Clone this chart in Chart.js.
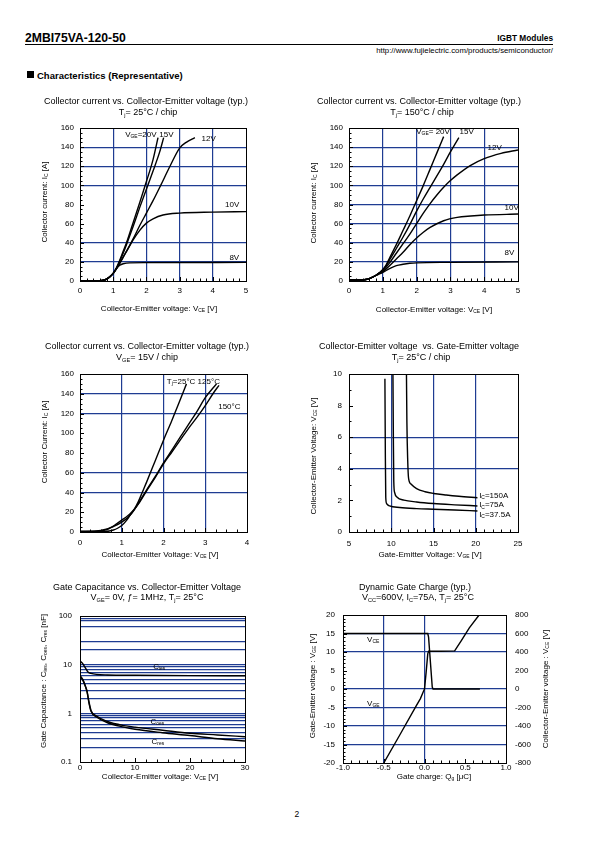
<!DOCTYPE html>
<html>
<head>
<meta charset="utf-8">
<title>2MBI75VA-120-50 characteristics</title>
<script src="https://cdn.jsdelivr.net/npm/chart.js@4.4.0/dist/chart.umd.min.js"></script>
<style>
  body { margin: 0; background: #fff; font-family: "Liberation Sans", Arial, sans-serif; }
  #page { position: relative; width: 595px; height: 842px; overflow: hidden; }
  #page canvas { position: absolute; left: 0; top: 0; }
  .t { position: absolute; white-space: nowrap; color: #000; line-height: 1; }
</style>
</head>
<body>
<div id="page">
  <div class="t" style="left:25px;top:31.5px;font-size:12.2px;font-weight:bold;">2MBI75VA-120-50</div>
  <div class="t" style="right:42px;top:34px;font-size:8.3px;font-weight:bold;">IGBT Modules</div>
  <div style="position:absolute;left:25px;top:44px;width:528px;height:1px;background:#000"></div>
  <div class="t" style="right:42px;top:46.5px;font-size:7.8px;">http://www.fujielectric.com/products/semiconductor/</div>
  <div style="position:absolute;left:27px;top:71px;width:7px;height:7px;background:#000"></div>
  <div class="t" style="left:37px;top:70.5px;font-size:9.5px;font-weight:bold;">Characteristics (Representative)</div>
  <div class="t" style="left:294.5px;top:810px;font-size:8.5px;">2</div>
  <canvas id="c1" width="595" height="842"></canvas>
  <canvas id="c2" width="595" height="842"></canvas>
  <canvas id="c3" width="595" height="842"></canvas>
  <canvas id="c4" width="595" height="842"></canvas>
  <canvas id="c5" width="595" height="842"></canvas>
  <canvas id="c6" width="595" height="842"></canvas>
</div>
<script>
// ---- Ic vs Vce, Tj = 25°C ([Vce, Ic])
const t25_vge20 = [[0,0],[0.5,0],[0.6,0.3],[0.7,0.8],[0.8,2],[0.9,4.5],[1.0,8],[1.1,14],[1.2,22],[1.3,31],[1.4,40],[1.6,61],[1.8,82],[2.0,104],[2.2,127],[2.35,150]];
const t25_vge15 = [[0,0],[0.5,0],[0.6,0.3],[0.7,0.8],[0.8,2],[0.9,4.5],[1.0,8],[1.1,13.5],[1.2,21],[1.3,29],[1.4,38],[1.6,57],[1.8,77],[2.0,96],[2.2,115],[2.4,135],[2.52,150]];
const t25_vge12 = [[0,0],[0.5,0],[0.6,0.3],[0.7,0.8],[0.8,2],[0.9,4.5],[1.0,8],[1.1,13],[1.2,19],[1.4,31],[1.6,44],[1.8,58],[2.0,71],[2.2,84],[2.43,100],[2.71,120],[3.0,139],[3.2,145],[3.46,150]];
const t25_vge10 = [[0,0],[0.5,0],[0.6,0.3],[0.7,0.8],[0.8,2],[0.9,4.5],[1.0,8],[1.1,13],[1.2,18.5],[1.3,25],[1.4,31],[1.5,37],[1.6,43],[1.8,53],[2.0,60.5],[2.2,65],[2.5,69],[3.0,71],[4.0,72],[5.0,72.5]];
const t25_vge8 = [[0,0],[0.5,0],[0.6,0.3],[0.7,0.8],[0.8,2],[0.9,4.5],[1.0,8],[1.1,13],[1.2,16.5],[1.3,18],[1.5,19],[2.0,19.2],[5.0,19.5]];

// ---- Ic vs Vce, Tj = 150°C
const t150_vge20 = [[0,1],[0.3,1],[0.5,1.6],[0.6,2.5],[0.7,4],[0.8,6],[0.9,8.5],[1.0,12],[1.1,17],[1.2,24],[1.4,38],[1.6,53],[1.8,68],[2.0,84],[2.2,100],[2.4,117],[2.6,134],[2.8,151]];
const t150_vge15 = [[0,1],[0.3,1],[0.5,1.6],[0.6,2.5],[0.7,4],[0.8,6],[0.9,8.5],[1.0,11.5],[1.1,16],[1.2,22],[1.4,34],[1.6,46],[1.8,59],[2.0,73],[2.2,86],[2.4,98],[2.6,110],[2.8,122],[3.0,135],[3.25,150]];
const t150_vge12 = [[0,1],[0.3,1],[0.5,1.6],[0.6,2.5],[0.7,4],[0.8,6],[0.9,8.5],[1.0,10.5],[1.1,14.5],[1.2,19],[1.4,29],[1.6,39],[1.8,49],[2.0,60],[2.2,71],[2.4,81],[2.6,90],[2.8,98],[3.0,105],[3.2,111],[3.6,121],[4.0,128],[4.5,133.5],[5.0,137]];
const t150_vge10 = [[0,1],[0.3,1],[0.5,1.6],[0.6,2.5],[0.7,4],[0.8,6],[0.9,8],[1.0,9.5],[1.2,16],[1.4,23],[1.6,30],[1.8,38],[2.0,45],[2.2,51],[2.4,56],[2.8,63],[3.2,66.5],[3.6,68],[4.0,69],[5.0,70]];
const t150_vge8 = [[0,1],[0.3,1],[0.5,1.6],[0.6,2.5],[0.7,4],[0.8,5.8],[0.9,7.5],[1.0,9],[1.2,13],[1.4,16],[1.6,17.5],[1.8,18.5],[2.0,19],[3.0,19.5],[5.0,20]];

// ---- Ic vs Vce, Vge = 15V
const vge15_tj25 = [[0,0.5],[0.6,0.5],[0.7,1],[0.8,2],[0.9,3.8],[1.0,6.5],[1.1,11],[1.2,17],[1.3,23],[1.4,31],[1.5,41],[1.6,51],[1.8,72],[2.0,93],[2.2,113],[2.4,134],[2.55,150]];
const vge15_tj125 = [[0,0.5],[0.4,0.8],[0.5,1.2],[0.6,2],[0.7,3.5],[0.8,5.5],[0.9,7.5],[1.0,10],[1.1,13],[1.2,17],[1.3,22.5],[1.4,29],[1.6,43],[1.8,56],[2.0,70],[2.2,83],[2.4,96],[2.6,109],[2.8,122],[3.0,136],[3.27,150]];
const vge15_tj150 = [[0,0.5],[0.4,1],[0.5,1.6],[0.6,2.6],[0.7,4],[0.8,6],[0.9,9],[1.0,12],[1.1,15],[1.2,18.5],[1.3,23],[1.4,28.5],[1.6,42],[1.8,55],[2.0,69],[2.2,81],[2.4,93],[2.6,105],[2.8,116],[3.0,128],[3.2,141],[3.33,148.5]];

// ---- Vce vs Vge, Tj = 25°C ([Vge, Vce])
const ic150 = [[11.8,10],[11.85,7],[11.95,4.5],[12.05,3.4],[12.3,3.05],[13,2.75],[14,2.55],[15,2.44],[16.5,2.34],[18,2.26],[20.2,2.17]];
const ic75 = [[10.2,10],[10.25,6],[10.3,3.2],[10.4,2.5],[10.7,2.2],[11.5,2.02],[13,1.9],[15,1.8],[17.5,1.72],[20.2,1.65]];
const ic37 = [[9.25,9.7],[9.3,5],[9.35,2.2],[9.45,1.8],[9.8,1.65],[11,1.55],[13,1.48],[15,1.44],[17.5,1.39],[20.2,1.33]];

// ---- Capacitance vs Vce ([Vce, nF])
const cies = [[0,12],[0.5,10.5],[1,8.5],[1.5,7],[2,6.6],[3,6.3],[5,6.15],[10,6.05],[20,5.95],[30,5.9]];
const coes = [[0,6],[0.5,5],[1,3.6],[1.3,2.8],[1.6,1.8],[2,1.15],[3,0.88],[5,0.68],[8,0.56],[10,0.52],[15,0.45],[20,0.39],[25,0.36],[30,0.33]];
const cres = [[0,5.7],[0.5,4.8],[1,3.5],[1.3,2.7],[1.6,1.7],[2,1.1],[3,0.84],[5,0.64],[8,0.52],[10,0.47],[15,0.4],[20,0.35],[25,0.3],[30,0.27]];

// ---- Gate charge ([Qg uC, V])
const qgVge = [[-0.5,-20],[-0.3,-12.3],[-0.1,-4.5],[-0.05,-2.6],[-0.02,-1],[0,0],[0.02,4.5],[0.04,9.5],[0.05,10.2],[0.2,10.2],[0.37,10.3],[0.45,13],[0.55,16.5],[0.67,20]];
const qgVce = [[-1,600],[0.04,600],[0.05,560],[0.095,20],[0.105,0],[0.68,0]];

// ---- tick / grid values
const capGrid = [0.2,0.3,0.4,0.5,0.6,0.7,0.8,0.9,1,2,3,4,5,6,7,8,9,10,20,30,60,80,90];
const capTicks = [0.1,0.2,0.3,0.4,0.5,0.6,0.7,0.8,0.9,1,2,3,4,5,6,7,8,9,10,20,30,40,50,60,70,80,90,100];
const capDecades = [0.1,1,10,100];

const BLUE = '#1f3c92';
const FONT = '"Liberation Sans", Arial, sans-serif';
const AXW = 40;  // room kept for tick labels beside each axis
Chart.defaults.font.family = FONT;

function richParts(str) {
  const parts = []; const re = /_\{([^}]*)\}/g; let last = 0, m;
  while ((m = re.exec(str))) {
    if (m.index > last) parts.push([str.slice(last, m.index), false]);
    parts.push([m[1], true]);
    last = re.lastIndex;
  }
  if (last < str.length) parts.push([str.slice(last), false]);
  return parts;
}

function drawRich(ctx, str, x, y, size, align) {
  const parts = richParts(str);
  const sub = size * 0.62;
  let w = 0;
  parts.forEach(p => { ctx.font = (p[1] ? sub : size) + 'px ' + FONT; p.push(ctx.measureText(p[0]).width); w += p[2]; });
  let cx = align === 'center' ? x - w / 2 : align === 'right' ? x - w : x;
  ctx.textBaseline = 'middle'; ctx.textAlign = 'left'; ctx.fillStyle = '#000';
  parts.forEach(p => {
    ctx.font = (p[1] ? sub : size) + 'px ' + FONT;
    ctx.fillText(p[0], cx, p[1] ? y + size * 0.25 : y);
    cx += p[2];
  });
}

// titles, axis titles, curve labels, inner tick marks, frame
const deco = {
  id: 'deco',
  afterDraw(chart, args, o) {
    const ctx = chart.ctx, a = chart.chartArea;
    ctx.save();
    ctx.strokeStyle = '#000'; ctx.lineWidth = 1;
    const marks = (scale, spec, side) => {
      if (!spec) return;
      const [minor, major] = spec;
      const n = Math.round((scale.max - scale.min) / minor);
      for (let i = 1; i < n; i++) {
        const v = scale.min + i * minor;
        const r = v / major;
        const len = Math.abs(r - Math.round(r)) < 1e-6 ? 4 : 2.5;
        const p = Math.round(scale.getPixelForValue(v)) + 0.5;
        ctx.beginPath();
        if (side === 'bottom') { ctx.moveTo(p, a.bottom); ctx.lineTo(p, a.bottom - len); }
        if (side === 'left') { ctx.moveTo(a.left, p); ctx.lineTo(a.left + len, p); }
        if (side === 'right') { ctx.moveTo(a.right, p); ctx.lineTo(a.right - len, p); }
        ctx.stroke();
      }
    };
    marks(chart.scales.x, o.xMarks, 'bottom');
    marks(chart.scales.y, o.yMarks, 'left');
    if (chart.scales.y2) marks(chart.scales.y2, o.y2Marks, 'right');
    ctx.strokeRect(Math.round(a.left) + 0.5, Math.round(a.top) + 0.5, Math.round(a.right - a.left), Math.round(a.bottom - a.top));

    o.title.forEach(t => drawRich(ctx, t[0], t[1], t[2], 9, 'center'));
    drawRich(ctx, o.xTitle[0], o.xTitle[1], o.xTitle[2], 8, 'center');
    [o.yTitle, o.y2Title].forEach(t => {
      if (!t) return;
      ctx.save(); ctx.translate(t[1], t[2]); ctx.rotate(-Math.PI / 2);
      drawRich(ctx, t[0], 0, 0, 8, 'center');
      ctx.restore();
    });
    (o.labels || []).forEach(l => {
      const px = chart.scales.x.getPixelForValue(l[1]);
      const py = chart.scales[l[3] || 'y'].getPixelForValue(l[2]);
      drawRich(ctx, l[0], px, py, 8, 'left');
    });
    ctx.restore();
  }
};

function axis(o) {
  const near = v => (o.grid || []).some(g => Math.abs(g - v) < 1e-6);
  return {
    type: o.type || 'linear', position: o.position, min: o.min, max: o.max,
    afterFit: s => { if (s.isHorizontal()) s.height = AXW; else s.width = AXW; },
    afterBuildTicks: o.ticks ? s => { s.ticks = o.ticks.map(v => ({ value: v })); } : undefined,
    grid: { display: o.grid !== undefined, drawTicks: false, drawOnChartArea: true, lineWidth: 1.2,
            color: c => near(c.tick.value) ? BLUE : 'rgba(0,0,0,0)' },
    border: { display: false },
    ticks: { stepSize: o.step, padding: o.pad, maxRotation: 0, autoSkip: false, color: '#000',
             font: { size: 8, family: FONT }, callback: o.fmt || (v => v) }
  };
}

function makeChart(id, c) {
  const [L, R, T, B] = c.area;
  const scales = { x: axis(c.x), y: axis(c.y) };
  if (c.y2) scales.y2 = axis(c.y2);
  new Chart(document.getElementById(id), {
    type: 'scatter',
    data: {
      datasets: c.series.map(s => ({
        data: s.data, yAxisID: s.axis || 'y', showLine: true, pointRadius: 0,
        borderColor: '#000', borderWidth: 1.4,
        cubicInterpolationMode: s.straight ? 'default' : 'monotone', tension: 0
      }))
    },
    options: {
      responsive: false, animation: false, events: [],
      layout: { padding: { left: L - AXW, top: T, right: 595 - R - (c.y2 ? AXW : 0), bottom: 842 - B - AXW } },
      scales,
      plugins: { legend: { display: false }, tooltip: { enabled: false }, deco: c.deco }
    },
    plugins: [deco]
  });
}

makeChart('c1', {
  area: [80, 246, 128, 281],
  x: { min: 0, max: 5, step: 1, grid: [1, 2, 3, 4], pad: 5 },
  y: { min: 0, max: 160, step: 20, grid: [20, 40, 100, 120, 140], pad: 6 },
  series: [{ data: t25_vge20 }, { data: t25_vge15 }, { data: t25_vge12 }, { data: t25_vge10 }, { data: t25_vge8 }],
  deco: {
    title: [['Collector current vs. Collector-Emitter voltage (typ.)', 146, 102], ['T_{j}= 25°C / chip', 148, 113]],
    xTitle: ['Collector-Emitter voltage: V_{CE} [V]', 159, 309],
    yTitle: ['Collector current: I_{C} [A]', 45, 202],
    xMarks: [0.2, 1], yMarks: [5, 20],
    labels: [['V_{GE}=20V', 1.36, 153], ['15V', 2.39, 153], ['12V', 3.66, 149], ['10V', 4.37, 79.5], ['8V', 4.5, 24]]
  }
});

makeChart('c2', {
  area: [349, 518, 128, 281],
  x: { min: 0, max: 5, step: 1, grid: [1, 2, 3, 4], pad: 5 },
  y: { min: 0, max: 160, step: 20, grid: [20, 40, 60, 80, 100, 120, 140], pad: 6 },
  series: [{ data: t150_vge20 }, { data: t150_vge15 }, { data: t150_vge12 }, { data: t150_vge10 }, { data: t150_vge8 }],
  deco: {
    title: [['Collector current vs. Collector-Emitter voltage (typ.)', 419, 102], ['T_{j}= 150°C / chip', 422, 113]],
    xTitle: ['Collector-Emitter voltage: V_{CE} [V]', 434, 310],
    yTitle: ['Collector current: I_{C} [A]', 314, 203],
    xMarks: [0.2, 1], yMarks: [5, 20],
    labels: [['V_{GE}= 20V', 1.99, 156], ['15V', 3.27, 156], ['12V', 4.1, 139], ['10V', 4.6, 77], ['8V', 4.6, 29]]
  }
});

makeChart('c3', {
  area: [80, 247, 374, 532],
  x: { min: 0, max: 4, step: 1, grid: [1, 2, 3], pad: 6 },
  y: { min: 0, max: 160, step: 20, grid: [40, 60, 120, 140], pad: 6 },
  series: [{ data: vge15_tj25 }, { data: vge15_tj125 }, { data: vge15_tj150 }],
  deco: {
    title: [['Collector current vs. Collector-Emitter voltage (typ.)', 147, 347], ['V_{GE}= 15V / chip', 147, 358]],
    xTitle: ['Collector-Emitter Voltage: V_{CE} [V]', 160, 555],
    yTitle: ['Collector Current: I_{C} [A]', 45, 442],
    xMarks: [0.25, 1], yMarks: [5, 20],
    labels: [['T_{j}=25°C 125°C', 2.08, 152], ['150°C', 3.31, 127]]
  }
});

makeChart('c4', {
  area: [349, 518, 374, 532],
  x: { min: 5, max: 25, step: 5, grid: [10, 15, 20], pad: 7 },
  y: { min: 0, max: 10, step: 2, grid: [4, 6], pad: 7 },
  series: [{ data: ic150 }, { data: ic75 }, { data: ic37 }],
  deco: {
    title: [['Collector-Emitter voltage  vs. Gate-Emitter voltage', 419, 347], ['T_{j}= 25°C / chip', 421, 358]],
    xTitle: ['Gate-Emitter Voltage: V_{GE} [V]', 430, 555],
    yTitle: ['Collector-Emitter Voltage: V_{CE} [V]', 314, 456],
    xMarks: [1, 5], yMarks: [1, 2],
    labels: [['I_{C}=150A', 20.4, 2.28], ['I_{C}=75A', 20.4, 1.7], ['I_{C}=37.5A', 20.4, 1.12]]
  }
});

makeChart('c5', {
  area: [80, 245, 616, 762],
  x: { min: 0, max: 30, step: 10, pad: 1 },
  y: { type: 'logarithmic', min: 0.1, max: 100, ticks: capTicks, grid: capGrid, pad: 8,
       fmt: v => capDecades.includes(v) ? String(v) : '' },
  series: [{ data: cies }, { data: coes }, { data: cres }],
  deco: {
    title: [['Gate Capacitance vs. Collector-Emitter Voltage', 147, 588], ['V_{GE}= 0V, ƒ= 1MHz, T_{j}= 25°C', 147, 598]],
    xTitle: ['Collector-Emitter voltage: V_{CE} [V]', 160, 777],
    yTitle: ['Gate Capacitance : C_{ies}, C_{oes}, C_{res} [nF]', 44, 681],
    xMarks: [2, 10],
    labels: [['C_{ies}', 13.3, 9.1], ['C_{oes}', 12.8, 0.66], ['C_{res}', 13, 0.257]]
  }
});

makeChart('c6', {
  area: [343, 506, 615, 763],
  x: { min: -1, max: 1, step: 0.5, grid: [-0.5, 0], pad: 0, fmt: v => v.toFixed(1) },
  y: { min: -20, max: 20, step: 5, grid: [-15, -10, -5, 0, 10, 15], pad: 8 },
  y2: { min: -800, max: 800, step: 200, position: 'right', pad: 9 },
  series: [{ data: qgVge, straight: true }, { data: qgVce, axis: 'y2', straight: true }],
  deco: {
    title: [['Dynamic Gate Charge (typ.)', 415, 588], ['V_{CC}=600V, I_{C}=75A, T_{j}= 25°C', 418, 598]],
    xTitle: ['Gate charge: Q_{g} [μC]', 434, 777],
    yTitle: ['Gate-Emitter voltage : V_{GE} [V]', 313, 686],
    y2Title: ['Collector-Emitter voltage : V_{CE} [V]', 546, 689],
    xMarks: [0.1, 0.5], yMarks: [1, 5],
    labels: [['V_{CE}', -0.705, 13.4], ['V_{GE}', -0.705, -4.0]]
  }
});
</script>
</body>
</html>
